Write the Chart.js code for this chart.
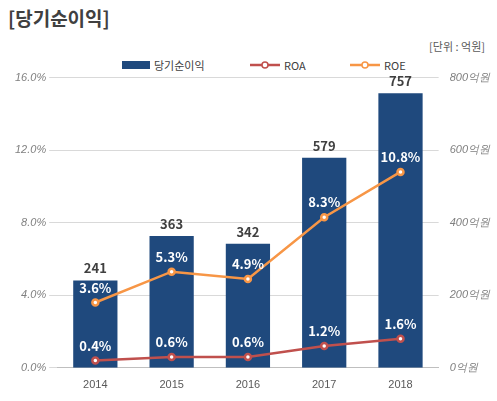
<!DOCTYPE html>
<html><head><meta charset="utf-8">
<script src="https://cdn.jsdelivr.net/npm/chart.js@4/dist/chart.umd.min.js"></script>
<style>
body{margin:0;width:497px;height:401px;background:#fff;font-family:"Noto Sans CJK KR","Noto Sans",sans-serif;position:relative;overflow:hidden}
#title{position:absolute;left:8px;top:4px;font-size:19px;font-weight:bold;color:#404040}
#unit{position:absolute;right:12px;top:38px;font-size:11px;color:#595959}
#legend{position:absolute;top:57px;left:0;width:497px;font-size:11px;color:#404040}
.li{position:absolute;top:0;display:flex;align-items:center;gap:4px}
#wrap{position:absolute;left:0;top:68px;width:497px;height:333px}
</style></head><body>
<div id="title">[당기순이익]</div>
<div id="unit">[단위 : 억원]</div>
<div id="legend">
<div class="li" style="left:122px"><span style="display:inline-block;width:28px;height:8px;background:#1f497d"></span>당기순이익</div>
<div class="li" style="left:250px"><svg width="30" height="10"><line x1="0" y1="5" x2="30" y2="5" stroke="#c0504d" stroke-width="2.5"/><circle cx="15" cy="5" r="3" fill="#fff" stroke="#c0504d" stroke-width="1.5"/></svg>ROA</div>
<div class="li" style="left:350px"><svg width="30" height="10"><line x1="0" y1="5" x2="30" y2="5" stroke="#f79646" stroke-width="2.5"/><circle cx="15" cy="5" r="3" fill="#fff" stroke="#f79646" stroke-width="1.5"/></svg>ROE</div>
</div>
<div id="wrap"><canvas id="c"></canvas></div>
<script>
const categories=["2014","2015","2016","2017","2018"];
const netIncome=[241,363,342,579,757];
const roa=[0.4,0.6,0.6,1.2,1.6];
const roe=[3.6,5.3,4.9,8.3,10.8];
const leftTicks=[0,4,8,12,16];
const rightTicks=[0,200,400,600,800];
const labelPlugin={id:'lbl',afterDatasetsDraw(ch){
 const c=ch.ctx;c.save();c.textAlign='center';c.font='bold 13px "Noto Sans CJK KR","Noto Sans",sans-serif';
 ch.getDatasetMeta(0).data.forEach((b,i)=>{c.fillStyle='#404040';c.fillText(netIncome[i],b.x,b.y-7);});
 [1,2].forEach(d=>{const arr=d==1?roa:roe;ch.getDatasetMeta(d).data.forEach((p,i)=>{c.fillStyle='#fff';c.fillText(arr[i].toFixed(1)+'%',p.x,p.y-10);});});
 c.restore();}};
new Chart(document.getElementById('c'),{
 data:{labels:categories,datasets:[
  {type:'bar',label:'당기순이익',data:netIncome,yAxisID:'y2',backgroundColor:'#1f497d',barPercentage:0.58,categoryPercentage:1,order:2},
  {type:'line',label:'ROA',data:roa,yAxisID:'y',borderColor:'#c0504d',borderWidth:2.5,pointBackgroundColor:'#fff',pointBorderColor:'#c0504d',pointRadius:3,order:1},
  {type:'line',label:'ROE',data:roe,yAxisID:'y',borderColor:'#f79646',borderWidth:2.5,pointBackgroundColor:'#fff',pointBorderColor:'#f79646',pointRadius:3,order:1}
 ]},
 options:{responsive:true,maintainAspectRatio:false,animation:false,
  layout:{padding:{left:12,right:4,top:0,bottom:6}},
  plugins:{legend:{display:false},tooltip:{enabled:false}},
  scales:{
   x:{grid:{display:false},border:{color:'#bfbfbf'},ticks:{color:'#595959',font:{size:11}}},
   y:{position:'left',min:0,max:16,afterBuildTicks:a=>{a.ticks=leftTicks.map(v=>({value:v}));},
     ticks:{color:'#808080',font:{size:11,style:'italic'},callback:v=>v.toFixed(1)+'%'},grid:{color:'#d9d9d9'},border:{display:false}},
   y2:{position:'right',min:0,max:800,afterBuildTicks:a=>{a.ticks=rightTicks.map(v=>({value:v}));},
     ticks:{color:'#808080',font:{size:11,style:'italic'},callback:v=>v+'억원'},grid:{display:false},border:{display:false}}
  }},
 plugins:[labelPlugin]
});
</script></body></html>
